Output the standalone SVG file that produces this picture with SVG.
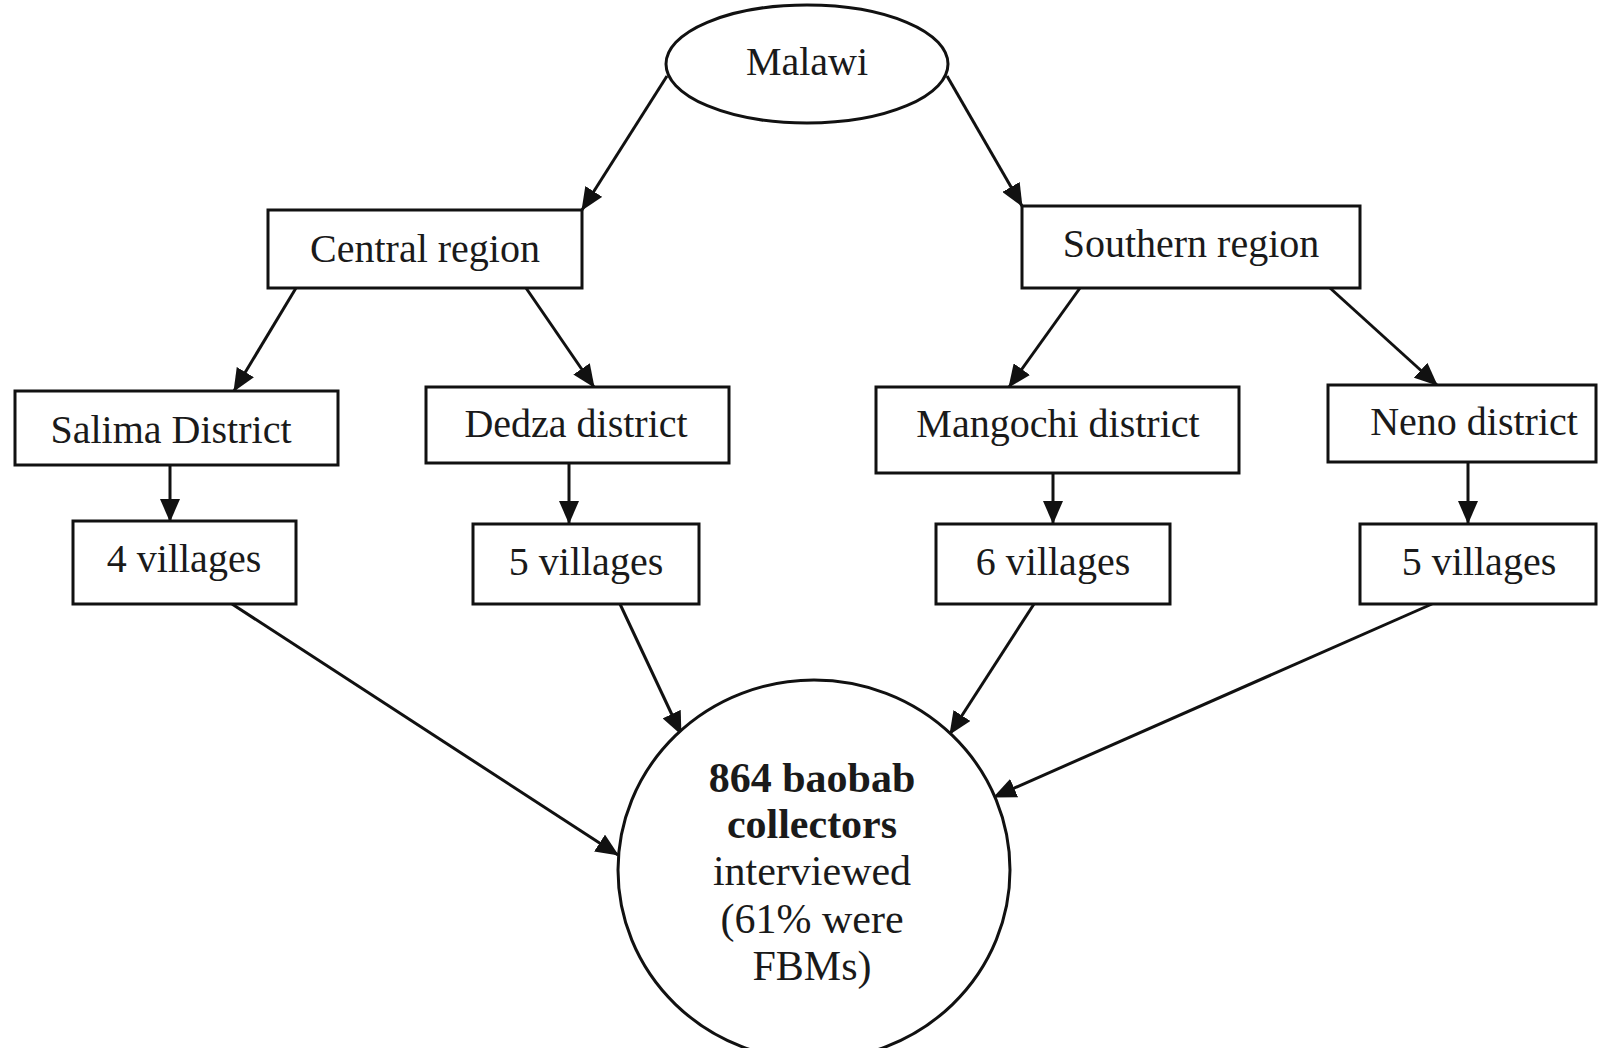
<svg xmlns="http://www.w3.org/2000/svg" width="1598" height="1048" viewBox="0 0 1598 1048">
<style>
.box{fill:#fff;stroke:#111;stroke-width:3}
.lbl{font-family:"Liberation Serif","Times New Roman",serif;font-size:40px;fill:#1a1a1a;text-anchor:middle}
.ctr{font-family:"Liberation Serif","Times New Roman",serif;font-size:42px;fill:#1a1a1a;text-anchor:middle}
.b{font-weight:bold}
.con{stroke:#111;stroke-width:3;fill:none;marker-end:url(#ah)}
</style>
<defs>
<marker id="ah" markerUnits="userSpaceOnUse" markerWidth="23" markerHeight="20" refX="22" refY="10" orient="auto">
<path d="M0,0 L23,10 L0,20 z" fill="#111"/>
</marker>
</defs>
<rect width="1598" height="1048" fill="#fff"/>
<g id="connectors">
<line class="con" x1="667" y1="76" x2="582" y2="210"/>
<line class="con" x1="947" y1="76" x2="1022" y2="206"/>
<line class="con" x1="296" y1="288" x2="234" y2="391"/>
<line class="con" x1="526" y1="288" x2="594" y2="387"/>
<line class="con" x1="1080" y1="288" x2="1009" y2="387"/>
<line class="con" x1="1330" y1="288" x2="1437" y2="385"/>
<line class="con" x1="170" y1="465" x2="170" y2="521"/>
<line class="con" x1="569" y1="463" x2="569" y2="523"/>
<line class="con" x1="1053" y1="473" x2="1053" y2="523"/>
<line class="con" x1="1468" y1="462" x2="1468" y2="523"/>
<line class="con" x1="232" y1="604" x2="618" y2="855"/>
<line class="con" x1="620" y1="604" x2="681" y2="734"/>
<line class="con" x1="1034" y1="604" x2="950" y2="734"/>
<line class="con" x1="1432" y1="604" x2="994" y2="797"/>
</g>
<g id="malawi">
<ellipse cx="807" cy="64" rx="141" ry="59" class="box"/>
<text class="lbl" x="807" y="75">Malawi</text>
</g>
<g id="central">
<rect class="box" x="268" y="210" width="314" height="78"/>
<text class="lbl" x="425" y="262">Central region</text>
</g>
<g id="southern">
<rect class="box" x="1022" y="206" width="338" height="82"/>
<text class="lbl" x="1191" y="257">Southern region</text>
</g>
<g id="salima">
<rect class="box" x="15" y="391" width="323" height="74"/>
<text class="lbl" x="171" y="443">Salima District</text>
</g>
<g id="dedza">
<rect class="box" x="426" y="387" width="303" height="76"/>
<text class="lbl" x="576" y="437">Dedza district</text>
</g>
<g id="mangochi">
<rect class="box" x="876" y="387" width="363" height="86"/>
<text class="lbl" x="1058" y="437">Mangochi district</text>
</g>
<g id="neno">
<rect class="box" x="1328" y="385" width="268" height="77"/>
<text class="lbl" x="1474" y="435">Neno district</text>
</g>
<g id="v-salima">
<rect class="box" x="73" y="521" width="223" height="83"/>
<text class="lbl" x="184" y="572">4 villages</text>
</g>
<g id="v-dedza">
<rect class="box" x="473" y="524" width="226" height="80"/>
<text class="lbl" x="586" y="575">5 villages</text>
</g>
<g id="v-mangochi">
<rect class="box" x="936" y="524" width="234" height="80"/>
<text class="lbl" x="1053" y="575">6 villages</text>
</g>
<g id="v-neno">
<rect class="box" x="1360" y="524" width="236" height="80"/>
<text class="lbl" x="1479" y="575">5 villages</text>
</g>
<g id="collectors">
<ellipse cx="814" cy="870" rx="196" ry="190" class="box" stroke-width="2.4"/>
<text class="ctr b" x="812" y="792">864 baobab</text>
<text class="ctr b" x="812" y="838">collectors</text>
<text class="ctr" x="812" y="885">interviewed</text>
<text class="ctr" x="812" y="933">(61% were</text>
<text class="ctr" x="812" y="980">FBMs)</text>
</g>
</svg>
